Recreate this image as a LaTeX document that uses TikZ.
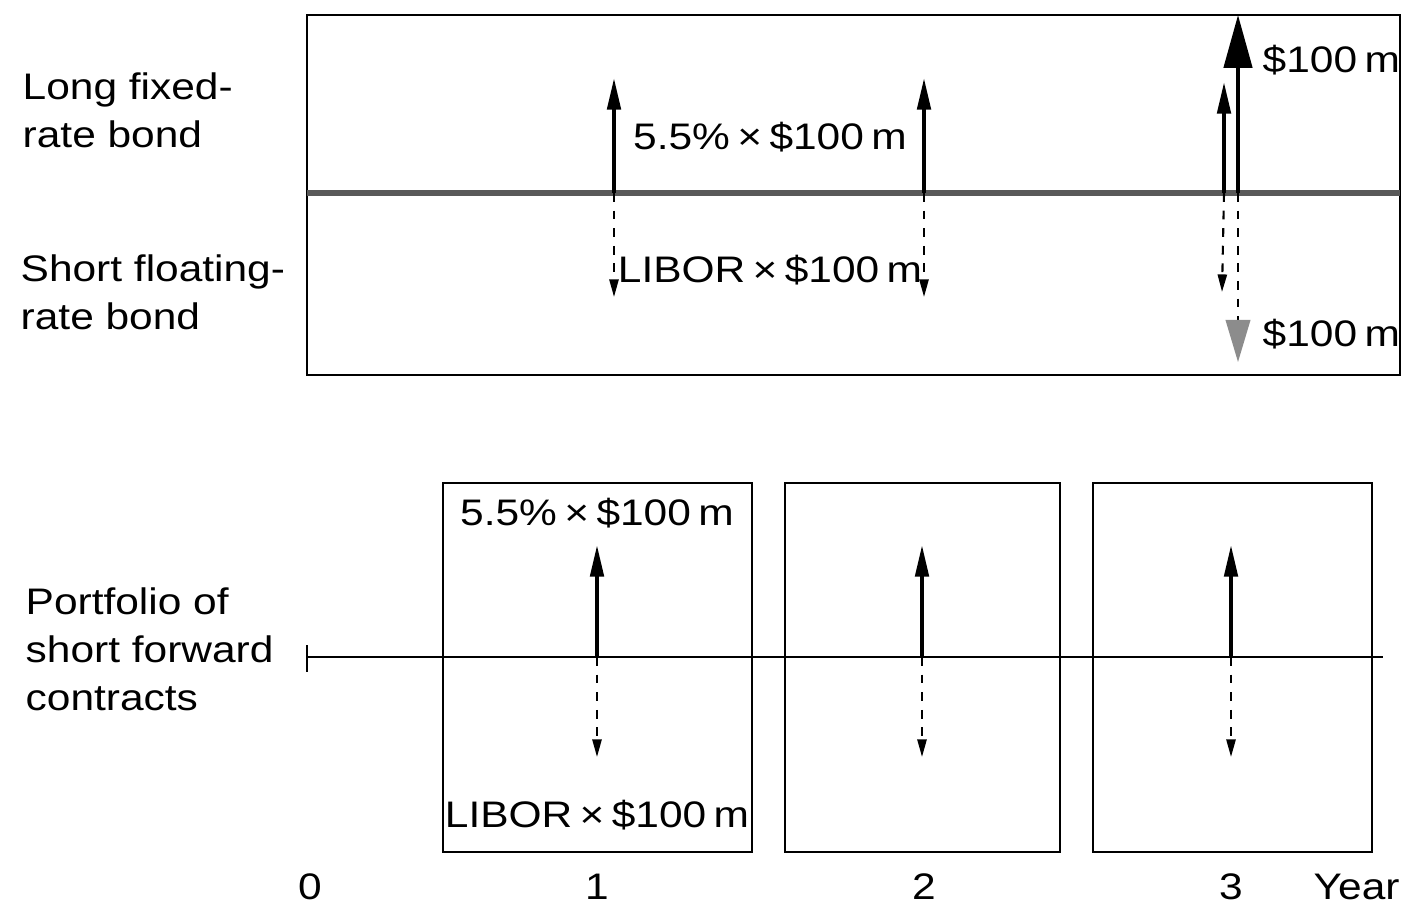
\documentclass[tikz,border=0pt]{standalone}
\usepackage{fontspec}
\setmainfont{Liberation Sans}[FakeStretch=1.15]
\usetikzlibrary{arrows.meta}

\tikzset{
	lbl/.style={font=\fontsize{10.5}{13.7}\selectfont, inner sep=0pt},
	side/.style={lbl, anchor=west, align=left},
	amount/.style={lbl, execute at begin node={\spaceskip=0.2em\relax}},
	frame/.style={line width=0.6pt},
	flow/.style={line width=1.1pt, -{Triangle[length=9pt,width=3.8pt]}},
	bigflow/.style={line width=1.1pt, -{Triangle[length=15pt,width=8pt]}},
	dflow/.style={line width=0.6pt, dash pattern=on 2.5pt off 2.5pt, -{Triangle[length=5pt,width=2.6pt]}},
	bigdflow/.style={line width=0.6pt, dash pattern=on 2.5pt off 2.5pt, -{Triangle[length=12pt,width=7pt,color=black!45]}},
}

\begin{document}
\begin{tikzpicture}[x=0.01cm, y=-0.01cm]
	\useasboundingbox (0,0) rectangle (1403,911);

	% ---- upper panel: the two bonds ----
	\draw[frame] (307,15) rectangle (1400,375);
	\draw[line width=1.6pt, black!65] (307,193) -- (1400,193);

	\node[side] (lfix) at (22,110) {Long fixed-\\rate bond};
	\node[side] (sflt) at (20,292) {Short floating-\\rate bond};

	% coupon dates on the bond line
	\foreach \x/\n in {614/a, 924/b, 1224/c, 1238/d} {
		\coordinate (b\n) at (\x,193);
	}
	\coordinate (ua) at (614,78);
	\coordinate (ub) at (924,78);
	\coordinate (uc) at (1224,82);
	\coordinate (ud) at (1238,15);
	\coordinate (da) at (614,297);
	\coordinate (db) at (924,297);
	\coordinate (dc) at (1222,292);
	\coordinate (dd) at (1238,362);

	% fixed coupons received, floating paid
	\foreach \n in {a, b, c} {
		\draw[flow] (b\n) -- (u\n);
		\draw[dflow] (b\n) -- (d\n);
	}
	% principal at maturity
	\draw[bigflow] (bd) -- (ud);
	\draw[bigdflow] (bd) -- (dd);

	\node[amount] (fixc) at (770,137) {5.5\% × \$100 m};
	\node[amount] (fltc) at (770,270) {LIBOR × \$100 m};
	\node[amount, anchor=west] (prin1) at (1262,60) {\$100 m};
	\node[amount, anchor=west] (prin2) at (1262,334) {\$100 m};

	% ---- lower panel: forward contracts ----
	\node[side] (port) at (25,649) {Portfolio of\\short forward\\contracts};

	\coordinate (ax0) at (307,657);
	\coordinate (ax1) at (1383,657);
	\draw[frame] (ax0) -- (ax1);
	\draw[frame] (307,645) -- (307,672);

	% one box per contract
	\foreach \l/\r in {443/752, 785/1060, 1093/1372} {
		\draw[frame] (\l,483) rectangle (\r,852);
	}

	\foreach \x/\n in {597/1, 922/2, 1231/3} {
		\coordinate (f\n) at (\x,657);
		\coordinate (fu\n) at (\x,545);
		\coordinate (fd\n) at (\x,757);
		\draw[flow] (f\n) -- (fu\n);
		\draw[dflow] (f\n) -- (fd\n);
	}

	\node[amount] (fwdfix) at (597,513) {5.5\% × \$100 m};
	\node[amount] (fwdflt) at (597,815) {LIBOR × \$100 m};

	% time axis labels
	\foreach \x/\t in {310/0, 597/1, 924/2, 1231/3} {
		\node[lbl] (yr\t) at (\x,887) {\t};
	}
	\node[lbl, anchor=west] (year) at (1313,887) {Year};
\end{tikzpicture}
\end{document}
